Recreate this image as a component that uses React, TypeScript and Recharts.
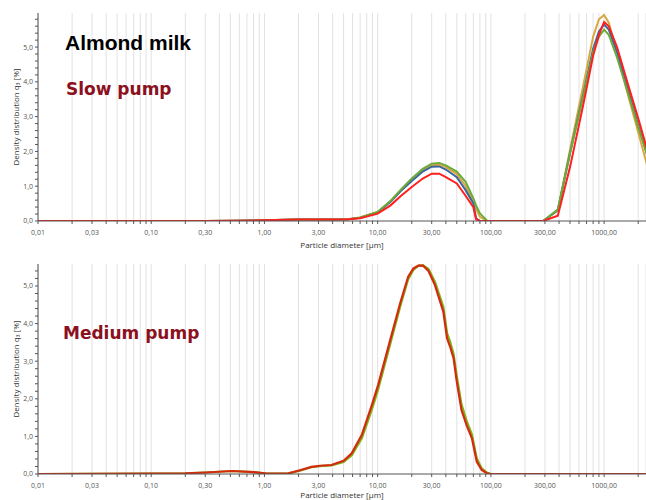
import React from "react";
import { LineChart, Line, XAxis, YAxis, CartesianGrid, Label } from "recharts";

// particle sizes in µm
const topSizes = [
  0.01, 0.3, 0.6, 1, 2, 4, 5.5, 7, 10, 13, 16, 20, 25, 30, 35, 40, 50, 60, 70, 74, 80, 93, 150,
  290, 390, 500, 650, 800, 900, 1000, 1100, 1300, 1600, 2000, 2400,
];
const topGold = [
  0, 0, 0.01, 0.02, 0.04, 0.04, 0.05, 0.1, 0.26, 0.57, 0.88, 1.2, 1.47, 1.6, 1.62, 1.55, 1.35, 1.0, 0.55, 0.35, 0.12, 0, 0,
  0, 0.3, 2.05, 3.85, 5.3, 5.8, 5.92, 5.7, 4.85, 3.7, 2.55, 1.6,
];
const topBlue = [
  0, 0, 0.01, 0.02, 0.04, 0.04, 0.05, 0.09, 0.25, 0.55, 0.86, 1.15, 1.42, 1.56, 1.57, 1.48, 1.26, 0.88, 0.5, 0.08, 0, 0, 0,
  0, 0.32, 1.95, 3.6, 4.95, 5.45, 5.65, 5.5, 4.85, 3.85, 2.75, 1.9,
];
const topGreen = [
  0, 0, 0.01, 0.02, 0.04, 0.04, 0.05, 0.1, 0.26, 0.58, 0.9, 1.22, 1.5, 1.65, 1.67, 1.6, 1.42, 1.12, 0.65, 0.45, 0.22, 0, 0,
  0, 0.33, 1.95, 3.55, 4.85, 5.3, 5.5, 5.35, 4.7, 3.75, 2.7, 1.9,
];
const topRed = [
  0, 0, 0.01, 0.02, 0.04, 0.04, 0.05, 0.08, 0.21, 0.45, 0.72, 0.98, 1.22, 1.36, 1.36, 1.26, 1.08, 0.72, 0.4, 0.05, 0, 0, 0,
  0, 0.15, 1.55, 3.3, 4.75, 5.35, 5.72, 5.6, 5.0, 4.0, 2.95, 2.05,
];

const bottomSizes = [
  0.01, 0.1, 0.2, 0.3, 0.52, 0.8, 1.05, 1.6, 2.06, 2.6, 3.1, 3.9, 5.0, 5.9, 7.25, 8.9, 10.1, 12.9, 15.8, 18.6, 20.7,
  22.9, 25.2, 28.1, 32, 38, 41, 43.6, 46.8, 50, 55, 61, 68, 75, 83, 92, 100, 2400,
];
const bottomGreen = [
  0, 0.01, 0.02, 0.04, 0.08, 0.05, 0.01, 0.01, 0.09, 0.18, 0.21, 0.23, 0.32, 0.5, 0.95, 1.72, 2.25, 3.45, 4.45, 5.18, 5.43,
  5.54, 5.55, 5.45, 5.12, 4.45, 3.75, 3.52, 3.2, 2.6, 1.85, 1.42, 1.05, 0.42, 0.15, 0.04, 0, 0,
];
const bottomRed = [
  0, 0.01, 0.02, 0.04, 0.08, 0.05, 0.01, 0.01, 0.1, 0.19, 0.22, 0.24, 0.35, 0.55, 1.04, 1.84, 2.37, 3.56, 4.54, 5.25, 5.47,
  5.54, 5.54, 5.4, 5.03, 4.32, 3.61, 3.39, 3.08, 2.45, 1.7, 1.3, 0.95, 0.33, 0.11, 0.02, 0, 0,
];

// x ticks: every k * 10^n, labels only on 1s and 3s
const xTicks = [-2, -1, 0, 1, 2, 3]
  .flatMap((n) => [1, 2, 3, 4, 5, 6, 7, 8, 9].map((k) => +(k * Math.pow(10, n)).toPrecision(2)))
  .filter((v) => v <= 2300);
const xLabelled = [0.01, 0.03, 0.1, 0.3, 1, 3, 10, 30, 100, 300, 1000];
const yTicksTop = Array.from({ length: 30 }, (_, i) => +(i * 0.2).toFixed(1));
const yTicksBottom = Array.from({ length: 28 }, (_, i) => +(i * 0.2).toFixed(1));
const yLabelled = [0, 1, 2, 3, 4, 5];

const topData = topSizes.map((x, i) => ({ x, gold: topGold[i], blue: topBlue[i], green: topGreen[i], red: topRed[i] }));
const bottomData = bottomSizes.map((x, i) => ({ x, green: bottomGreen[i], red: bottomRed[i] }));

const FONT = "'Open Sans', 'Noto Sans', sans-serif";
const AXIS = "#555";

const fmtX = (v: number) => (xLabelled.some((t) => Math.abs(t - v) < 1e-9) ? v.toFixed(2).replace(".", ",") : "");
const fmtY = (v: number) => (yLabelled.includes(v) ? v.toFixed(1).replace(".", ",") : "");

function Panel({
  data,
  yMax,
  yTicks,
  height,
  marginTop,
  labelOffset,
  children,
}: {
  data: any[];
  yMax: number;
  yTicks: number[];
  height: number;
  marginTop: number;
  labelOffset: number;
  children: React.ReactNode;
}) {
  return (
    <LineChart width={646} height={height} data={data} margin={{ top: marginTop, right: 0, bottom: 0, left: 0 }}>
      <CartesianGrid horizontal={false} stroke="#e2e2e2" />
      <XAxis
        dataKey="x"
        type="number"
        scale="log"
        domain={[0.01, 2344]}
        allowDataOverflow
        ticks={xTicks}
        interval={0}
        tickFormatter={fmtX}
        tick={{ fontSize: 7, fill: "#555", fontFamily: FONT }}
        tickSize={3}
        tickMargin={6}
        height={31}
        stroke={AXIS}
      >
        <Label
          value="Particle diameter [µm]"
          position="insideBottom"
          offset={labelOffset}
          style={{ fontSize: 8, fill: "#333", fontFamily: FONT }}
        />
      </XAxis>
      <YAxis
        type="number"
        domain={[0, yMax]}
        allowDataOverflow
        ticks={yTicks}
        interval={0}
        tickFormatter={fmtY}
        tick={{ fontSize: 7, fill: "#555", fontFamily: FONT }}
        tickSize={3}
        tickMargin={2}
        width={38}
        stroke={AXIS}
      >
        <Label
          value="Density distribution q₃ [%]"
          angle={-90}
          position="insideLeft"
          offset={16}
          style={{ fontSize: 8, fill: "#333", fontFamily: FONT, textAnchor: "middle" }}
        />
      </YAxis>
      {children}
    </LineChart>
  );
}

export default function App() {
  return (
    <div style={{ position: "absolute", left: 0, top: 0, width: 646, height: 500, overflow: "hidden", background: "#fff" }}>
      <div style={{ position: "absolute", left: 0, top: 0 }}>
        <Panel data={topData} yMax={5.98} yTicks={yTicksTop} height={252} marginTop={13} labelOffset={4}>
          <Line dataKey="gold" stroke="#d9a640" strokeWidth={2} dot={false} type="linear" isAnimationActive={false} />
          <Line dataKey="blue" stroke="#3b66a0" strokeWidth={2} dot={false} type="linear" isAnimationActive={false} />
          <Line dataKey="green" stroke="#6aab3a" strokeWidth={2} dot={false} type="linear" isAnimationActive={false} />
          <Line dataKey="red" stroke="#ff1f1f" strokeWidth={2} dot={false} type="linear" isAnimationActive={false} />
        </Panel>
      </div>
      <div style={{ position: "absolute", left: 0, top: 252 }}>
        <Panel data={bottomData} yMax={5.585} yTicks={yTicksBottom} height={253} marginTop={12} labelOffset={7}>
          <Line dataKey="green" stroke="#7db51a" strokeWidth={2.2} dot={false} type="linear" isAnimationActive={false} />
          <Line dataKey="red" stroke="#d42b0f" strokeWidth={2.2} dot={false} type="linear" isAnimationActive={false} />
        </Panel>
      </div>
      <div
        style={{
          position: "absolute",
          left: 65,
          top: 31,
          fontFamily: "'Liberation Sans', Arial, sans-serif",
          fontWeight: 700,
          fontSize: 21,
          lineHeight: "24px",
          color: "#000",
        }}
      >
        Almond milk
      </div>
      <div
        style={{
          position: "absolute",
          left: 66,
          top: 78,
          fontFamily: "'DejaVu Sans', sans-serif",
          fontWeight: 700,
          fontSize: 17,
          lineHeight: "22px",
          color: "#8b1020",
        }}
      >
        Slow pump
      </div>
      <div
        style={{
          position: "absolute",
          left: 63,
          top: 322,
          fontFamily: "'DejaVu Sans', sans-serif",
          fontWeight: 700,
          fontSize: 17,
          lineHeight: "22px",
          color: "#8b1020",
        }}
      >
        Medium pump
      </div>
    </div>
  );
}
